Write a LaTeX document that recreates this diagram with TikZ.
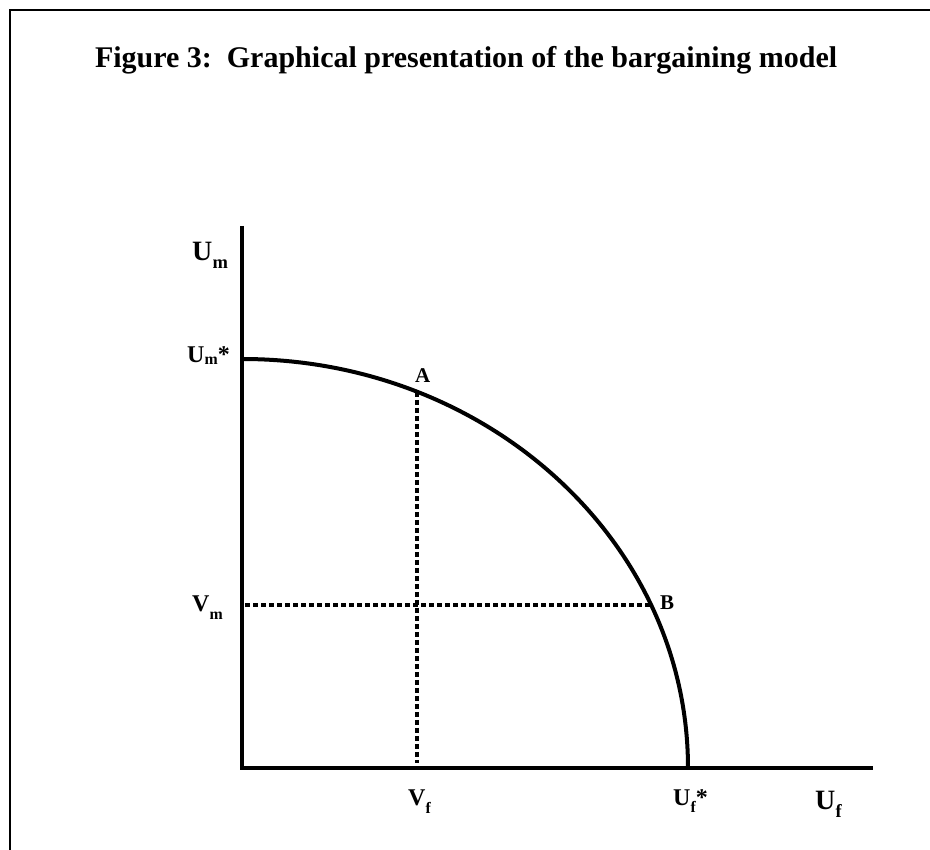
\documentclass[tikz,border=0pt]{standalone}
\usepackage{fontspec}
\setmainfont{Liberation Serif}
\makeatletter
\newcommand\lsub[2][0.27em]{\kern0.3pt\raisebox{-#1}{\fontsize{\fpeval{0.66*\f@size}}{0}\selectfont #2}}
\makeatother
\begin{document}
\begin{tikzpicture}[x=1pt,y=1pt,
  lbl/.style={inner sep=0pt, outer sep=0pt, anchor=base west, font=\bfseries\fontsize{24}{28}\selectfont},
  axlbl/.style={lbl, font=\bfseries\fontsize{28}{32}\selectfont},
  ptlbl/.style={lbl, font=\bfseries\fontsize{21}{24}\selectfont},
  axisline/.style={line width=4.5pt},
  guide/.style={line width=4.7pt, dash pattern=on 4.8pt off 3.2pt},
  frameline/.style={line width=2.5pt}]
\useasboundingbox (0,0) rectangle (930,850);
% frame
\coordinate (fl) at (10,0);
\coordinate (fc) at (10,840);
\coordinate (fr) at (930,840);
\draw[frameline] (fl) -- (fc) -- (fr);
% title
\node[lbl, font=\bfseries\fontsize{30}{34}\selectfont] (title) at (95,782) {Figure 3:\ \ Graphical presentation of the bargaining model};
% axes
\coordinate (O) at (242,82);
\coordinate (ytop) at (242,624);
\coordinate (xend) at (873,82);
\draw[axisline] (ytop) -- (O) -- (xend);
% frontier
\coordinate (Um) at (242,491);
\coordinate (Uf) at (688,82);
\draw[line width=4pt] (Um) arc[start angle=90, end angle=0, x radius=446, y radius=409];
% points
\coordinate (A) at (417,458);
\coordinate (B) at (652,245);
\coordinate (Abase) at (417,87);
\coordinate (Bbase) at (245,245);
\draw[guide] (A) -- (Abase);
\draw[guide] (Bbase) -- (B);
% labels
\node[axlbl] (lUm) at (192,589) {U\lsub{m}};
\node[lbl] (lUms) at (187,487) {U\lsub[0.05em]{m}*};
\node[lbl] (lVm) at (192,238) {V\lsub[0.3em]{m}};
\node[lbl] (lVf) at (408,44) {V\lsub[0.33em]{f}};
\node[lbl] (lUfs) at (673,44) {U\lsub[0.28em]{f}*};
\node[axlbl] (lUf) at (815,40) {U\lsub{f}};
\node[ptlbl] (lA) at (415,467) {A};
\node[ptlbl] (lB) at (660,240) {B};
\end{tikzpicture}
\end{document}
